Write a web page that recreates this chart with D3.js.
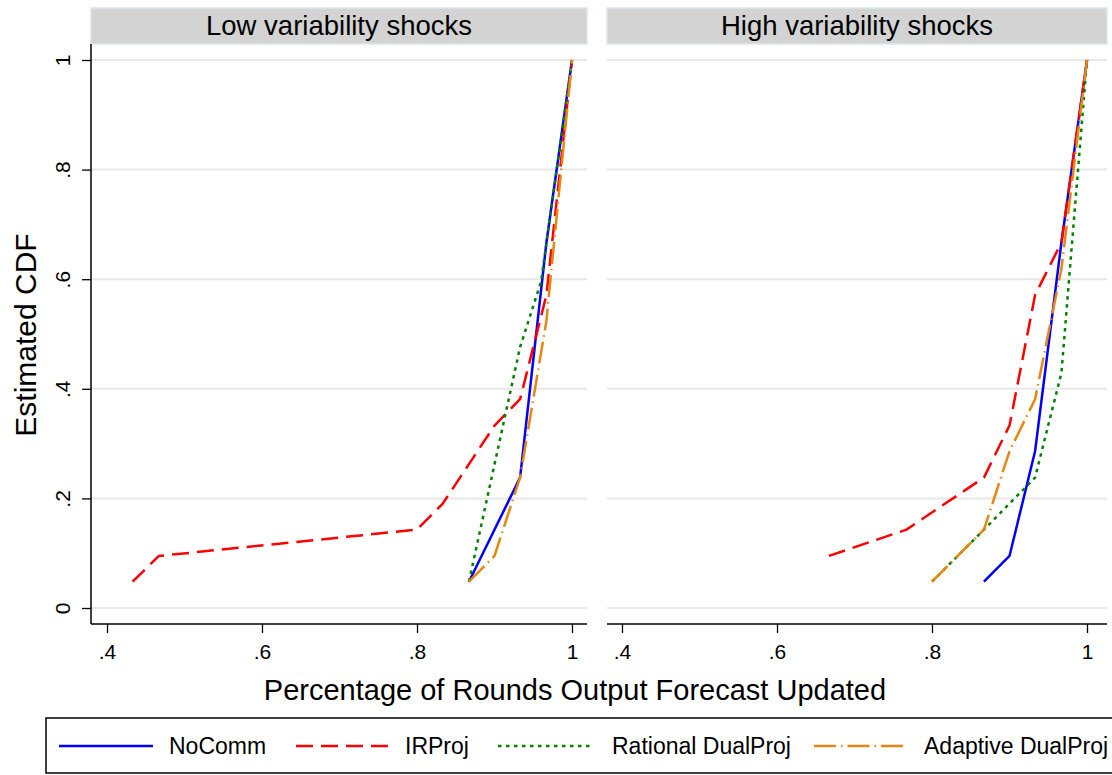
<!DOCTYPE html>
<html>
<head>
<meta charset="utf-8">
<script src="https://cdn.jsdelivr.net/npm/d3@7"></script>
<style>
  body { margin: 0; background: #fff; }
  svg { display: block; font-family: "Liberation Sans", Arial, sans-serif; }
</style>
</head>
<body>
<script>
// panel titles and series names
const panelTitles = ['Low variability shocks', 'High variability shocks'];
const seriesNames = ['NoComm', 'IRProj', 'Rational DualProj', 'Adaptive DualProj'];

// tick values / labels
const xTicks = [0.4, 0.6, 0.8, 1];
const xTickLabels = ['.4', '.6', '.8', '1'];
const yTicks = [0, 0.2, 0.4, 0.6, 0.8, 1];
const yTickLabels = ['0', '.2', '.4', '.6', '.8', '1'];

// estimated CDF points [share of rounds updated, CDF], low variability
const lowNoComm   = [[0.867, 0.048], [0.933, 0.238], [0.967, 0.667], [1, 1]];
const lowIRProj   = [[0.433, 0.048], [0.467, 0.095], [0.8, 0.143], [0.833, 0.190], [0.9, 0.333], [0.933, 0.381], [0.967, 0.571], [1, 1]];
const lowRational = [[0.867, 0.048], [0.933, 0.476], [0.96, 0.595], [1, 1]];
const lowAdaptive = [[0.867, 0.048], [0.9, 0.095], [0.933, 0.238], [0.967, 0.524], [1, 1]];

// high variability
const highNoComm   = [[0.867, 0.048], [0.9, 0.095], [0.933, 0.286], [0.967, 0.667], [1, 1]];
const highIRProj   = [[0.667, 0.095], [0.767, 0.143], [0.867, 0.238], [0.9, 0.333], [0.933, 0.571], [0.967, 0.667], [1, 1]];
const highRational = [[0.8, 0.048], [0.867, 0.143], [0.933, 0.238], [0.967, 0.429], [1, 1]];
const highAdaptive = [[0.8, 0.048], [0.867, 0.143], [0.9, 0.286], [0.933, 0.381], [0.967, 0.619], [1, 1]];

const panelData = [
  [lowNoComm, lowIRProj, lowRational, lowAdaptive],
  [highNoComm, highIRProj, highRational, highAdaptive]
];

// line styles per series
const colors = ['#0000ff', '#ff0000', '#008000', '#e8870f'];
const dashes = [null, '17,8', '3.5,4.5', '22,5,1.5,5'];

let width = 1112;
let height = 775;

let svg = d3.select('body').append('svg')
  .attr('width', width)
  .attr('height', height);

// panel frames: [left, right] of plot region and where x=.4 / x=1 fall
let panels = [
  { left: 91, right: 587, x0: 107, x1: 572 },
  { left: 607, right: 1107, x0: 622, x1: 1087 }
];
let plotTop = 44;
let axisY = 624;

let y = d3.scaleLinear().domain([0, 1]).range([608, 60]);

let line = (x) => d3.line().x(d => x(d[0])).y(d => y(d[1]));

panels.forEach((p, i) => {
  let x = d3.scaleLinear().domain([0.4, 1]).range([p.x0, p.x1]);
  let g = svg.append('g');

  // header strip
  g.append('rect')
    .attr('x', p.left).attr('y', 8)
    .attr('width', p.right - p.left).attr('height', plotTop - 8)
    .attr('fill', '#d3d3d3')
    .attr('stroke', '#dbe7ec').attr('stroke-width', 1.5);
  g.append('text')
    .attr('x', (p.left + p.right) / 2).attr('y', 35)
    .attr('text-anchor', 'middle')
    .style('font-size', '27.5px')
    .text(panelTitles[i]);

  // gridlines
  g.selectAll('.grid')
    .data(yTicks)
    .enter()
    .append('line')
      .attr('x1', p.left).attr('x2', p.right)
      .attr('y1', d => y(d)).attr('y2', d => y(d))
      .attr('stroke', '#e8e8e8').attr('stroke-width', 2);

  // x axis
  let xAxis = d3.axisBottom(x)
    .tickValues(xTicks)
    .tickFormat((d, k) => xTickLabels[k])
    .tickSize(9)
    .tickPadding(11);
  let xg = g.append('g').attr('transform', `translate(0,${axisY})`).call(xAxis);
  xg.select('.domain').remove();
  xg.selectAll('.tick line').attr('stroke', '#000').attr('stroke-width', 1.3);
  xg.selectAll('.tick text')
    .attr('fill', '#000')
    .style('font-size', '21px')
    .style('font-family', '"Liberation Sans", Arial, sans-serif');
  g.append('line')
    .attr('x1', p.left).attr('x2', p.right)
    .attr('y1', axisY).attr('y2', axisY)
    .attr('stroke', '#000').attr('stroke-width', 1.5);

  // y axis only on the left panel
  if (i === 0) {
    let yAxis = d3.axisLeft(y)
      .tickValues(yTicks)
      .tickFormat((d, k) => yTickLabels[k])
      .tickSize(9);
    let yg = g.append('g').attr('transform', `translate(${p.left},0)`).call(yAxis);
    yg.select('.domain').remove();
    yg.selectAll('.tick line').attr('stroke', '#000').attr('stroke-width', 1.3);
    yg.selectAll('.tick text')
      .attr('x', null).attr('dy', null)
      .attr('fill', '#000')
      .attr('text-anchor', 'middle')
      .attr('transform', 'translate(-21,0) rotate(-90)')
      .style('font-size', '21px')
      .style('font-family', '"Liberation Sans", Arial, sans-serif');
    g.append('line')
      .attr('x1', p.left).attr('x2', p.left)
      .attr('y1', plotTop).attr('y2', axisY)
      .attr('stroke', '#000').attr('stroke-width', 1.5);
  }

  // the CDF lines
  panelData[i].forEach((pts, s) => {
    g.append('path')
      .datum(pts)
      .attr('d', line(x))
      .attr('fill', 'none')
      .attr('stroke', colors[s])
      .attr('stroke-width', 2.5)
      .attr('stroke-dasharray', dashes[s])
      .attr('stroke-linejoin', 'round');
  });
});

// axis titles
svg.append('text')
  .attr('x', 575).attr('y', 700)
  .attr('text-anchor', 'middle')
  .style('font-size', '29px')
  .text('Percentage of Rounds Output Forecast Updated');

svg.append('text')
  .attr('transform', 'translate(36,335) rotate(-90)')
  .attr('text-anchor', 'middle')
  .style('font-size', '30px')
  .text('Estimated CDF');

// legend
let legend = svg.append('g');
legend.append('rect')
  .attr('x', 46).attr('y', 718)
  .attr('width', 1075).attr('height', 55)
  .attr('fill', '#fff')
  .attr('stroke', '#000').attr('stroke-width', 1.5);

let legendLineX = [59, 296, 498, 814];
let legendLineLen = 94;
let legendTextX = [169, 405, 612, 924];

legend.selectAll('.key')
  .data(seriesNames)
  .enter()
  .append('line')
    .attr('x1', (d, k) => legendLineX[k])
    .attr('x2', (d, k) => legendLineX[k] + legendLineLen)
    .attr('y1', 746).attr('y2', 746)
    .attr('stroke', (d, k) => colors[k])
    .attr('stroke-width', 2.5)
    .attr('stroke-dasharray', (d, k) => dashes[k]);

legend.selectAll('.label')
  .data(seriesNames)
  .enter()
  .append('text')
    .attr('x', (d, k) => legendTextX[k])
    .attr('y', 754)
    .style('font-size', '23px')
    .text(d => d);
</script>
</body>
</html>
